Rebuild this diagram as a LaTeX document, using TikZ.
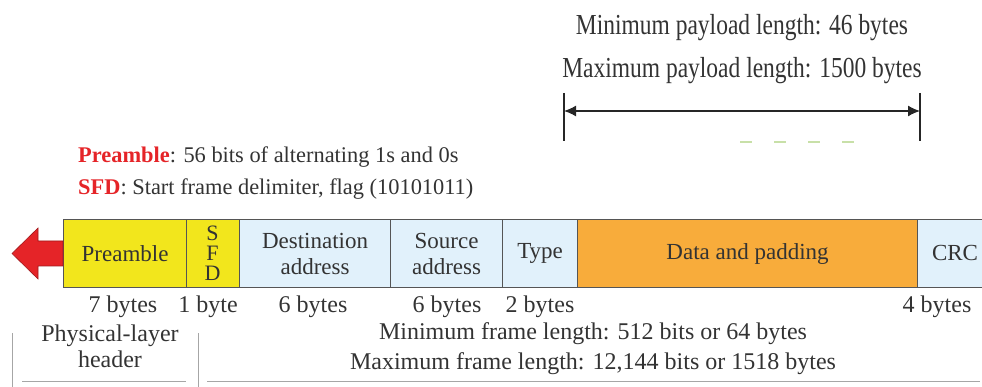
\documentclass[tikz,border=0pt]{standalone}
\usepackage{fontspec}
\setmainfont{Liberation Serif}
\usetikzlibrary{arrows.meta}
\definecolor{fyellow}{HTML}{F2E61C}
\definecolor{fblue}{HTML}{E1F1FB}
\definecolor{forange}{HTML}{F8AC3B}
\definecolor{fred}{HTML}{E52428}
\definecolor{ftext}{HTML}{333333}
\definecolor{fborder}{HTML}{555555}
\definecolor{fgreen}{HTML}{C8E0A8}
\begin{document}
\begin{tikzpicture}[x=1pt,y=-1pt,
  fld/.style={draw=fborder, line width=1.2pt, anchor=north west, minimum height=68pt,
    inner sep=0pt, align=center, text=ftext, font=\fontsize{23}{26}\selectfont},
  lbl/.style={text=ftext, inner sep=0pt, font=\fontsize{24}{28}\selectfont},
  sfdl/.style={text=ftext, inner sep=0pt, font=\fontsize{22}{24}\selectfont},
  note/.style={text=ftext, inner sep=0pt, anchor=west, font=\fontsize{22.4}{26}\selectfont},
  rule/.style={draw=gray!70, line width=1pt}]
\useasboundingbox (0,0) rectangle (982,387);
% frame fields
\node[fld, fill=fyellow, minimum width=123pt] (pre) at (63,219) {Preamble};
\node[fld, fill=fyellow, minimum width=53pt] (sfd) at (186,219) {};
\node[sfdl] (sfdS) at (212.5,233) {S};
\node[sfdl] (sfdF) at (212.5,253) {F};
\node[sfdl] (sfdD) at (212.5,273) {D};
\node[fld, fill=fblue, minimum width=151pt] (dst) at (239,219) {Destination\\address};
\node[fld, fill=fblue, minimum width=112pt] (src) at (390,219) {Source\\address};
\node[fld, fill=fblue, minimum width=75pt] (typ) at (502,219) {Type};
\node[fld, fill=forange, minimum width=340pt] (dat) at (577,219) {Data and padding};
\node[fld, fill=fblue, minimum width=80pt] (crc) at (917,219) {};
\node[text=ftext, inner sep=0pt, font=\fontsize{23}{26}\selectfont] (crct) at (955,253) {CRC};
% red arrow
\fill[fred, draw=fred!70!black, line width=0.6pt] (63,241) -- (38,241) -- (38,228) -- (12,253.5) -- (38,279) -- (38,266) -- (63,266) -- cycle;
% size labels
\node[lbl] (l1) at (123,307) {7 bytes};
\node[lbl] (l2) at (208,307) {1 byte};
\node[lbl] (l3) at (313,307) {6 bytes};
\node[lbl] (l4) at (447,307) {6 bytes};
\node[lbl] (l5) at (540,307) {2 bytes};
\node[lbl] (l6) at (937,307) {4 bytes};
% physical-layer header
\node[lbl, align=center, font=\fontsize{24}{26}\selectfont] (phy) at (110,346) {Physical-layer\\header};
\node[lbl, align=center, font=\fontsize{24}{30}\selectfont] (frm) at (593,349) {Minimum frame length: 512 bits or 64 bytes\\Maximum frame length: 12,144 bits or 1518 bytes};
\coordinate (v1a) at (12,333); \coordinate (v1b) at (12,390);
\coordinate (v2a) at (198,333); \coordinate (v2b) at (198,390);
\coordinate (h1a) at (22,381); \coordinate (h1b) at (186,381);
\coordinate (h2a) at (207,381); \coordinate (h2b) at (980,381);
\draw[rule] (v1a) -- (v1b);
\draw[rule] (v2a) -- (v2b);
\draw[rule] (h1a) -- (h1b);
\draw[rule] (h2a) -- (h2b);
% payload
\node[text=ftext, inner sep=0pt, font=\fontsize{29}{34}\selectfont] (pay1) at (742,28) {\scalebox{0.81}[1]{Minimum payload length: 46 bytes}};
\node[text=ftext, inner sep=0pt, font=\fontsize{29}{34}\selectfont] (pay2) at (742,71) {\scalebox{0.81}[1]{Maximum payload length: 1500 bytes}};
\coordinate (pl) at (564,111); \coordinate (pr) at (920,111);
\coordinate (plt) at (564,93); \coordinate (plb) at (564,141);
\coordinate (prt) at (920,93); \coordinate (prb) at (920,141);
\draw[line width=1.2pt, black!85] (plt) -- (plb);
\draw[line width=1.2pt, black!85] (prt) -- (prb);
\draw[line width=1.3pt, black!85, {Latex[length=12pt,width=11pt]}-{Latex[length=12pt,width=11pt]}] (pl) -- (pr);
\coordinate (ga) at (740,142); \coordinate (gb) at (860,142);
\draw[fgreen, line width=1.2pt, dash pattern=on 12pt off 22pt] (ga) -- (gb);
% notes
\node[note] (n1) at (78,157) {\textcolor{fred}{\textbf{Preamble}}: 56 bits of alternating 1s and 0s};
\node[note] (n2) at (78,189) {\textcolor{fred}{\textbf{SFD}}: Start frame delimiter, flag (10101011)};
\end{tikzpicture}
\end{document}
